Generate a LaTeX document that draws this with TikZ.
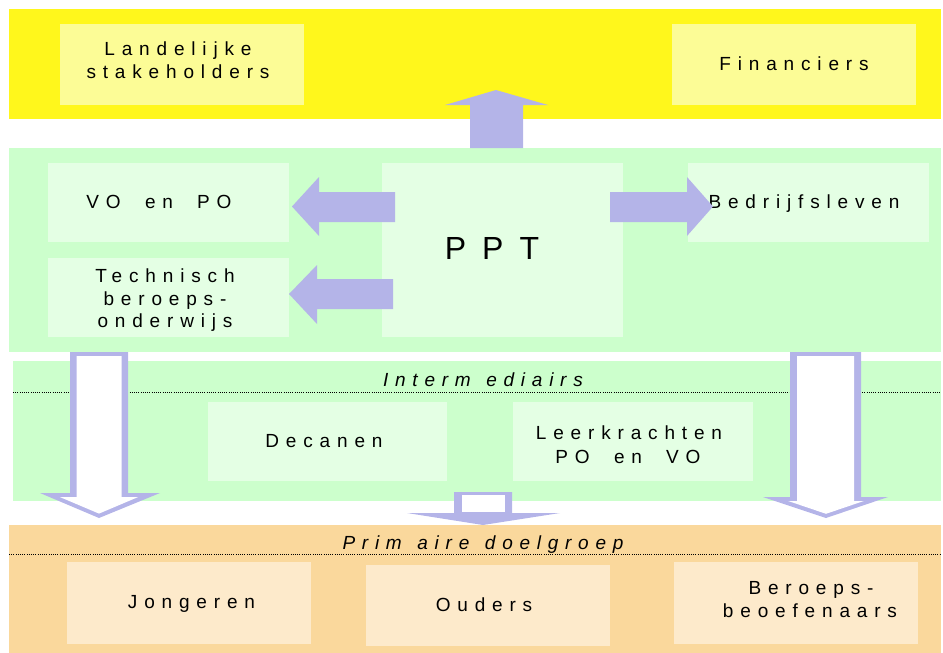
\documentclass[tikz,border=0pt]{standalone}
\usepackage{fontspec}
\setmainfont{Liberation Sans}
\newfontfamily\lsp[LetterSpace=36,WordSpace=2]{Liberation Sans}
\newfontfamily\lspit[LetterSpace=35.5,WordSpace=1.3]{Liberation Sans}
\newfontfamily\lspbig[LetterSpace=50]{Liberation Sans}
\definecolor{ybandc}{RGB}{255,247,28}
\definecolor{yboxc}{RGB}{252,252,150}
\definecolor{gbandc}{RGB}{204,255,204}
\definecolor{gboxc}{RGB}{228,255,228}
\definecolor{obandc}{RGB}{250,216,156}
\definecolor{oboxc}{RGB}{253,234,203}
\definecolor{lavc}{RGB}{180,180,232}
\begin{document}
\begin{tikzpicture}[x=1pt,y=-1pt,
  band/.style={draw=none,inner sep=0pt,outer sep=0pt},
  box/.style={draw=none,inner sep=0pt,outer sep=0pt},
  lbl/.style={anchor=base,inner sep=0pt,outer sep=0pt,text=black,font=\lsp\fontsize{19}{23}\selectfont},
  ilbl/.style={lbl,font=\lspit\itshape\fontsize{19}{23}\selectfont},
  biglbl/.style={anchor=base,inner sep=0pt,outer sep=0pt,text=black,font=\lspbig\fontsize{32}{38}\selectfont},
  solidarrow/.style={fill=lavc,draw=none},
  hollowout/.style={fill=lavc,draw=none},
  hollowin/.style={fill=white,draw=none},
  sepline/.style={black,line width=0.7pt,dash pattern=on 0.9pt off 1.3pt}
]
\useasboundingbox (0,0) rectangle (943,653);

% bands
\node[band,fill=ybandc,minimum width=932pt,minimum height=110pt] (yband) at (475,64) {};
\node[band,fill=gbandc,minimum width=932pt,minimum height=204pt] (gband) at (475,250) {};
\node[band,fill=gbandc,minimum width=928pt,minimum height=140pt] (iband) at (477,431) {};
\node[band,fill=obandc,minimum width=932pt,minimum height=128pt] (oband) at (475,589) {};

% separators
\coordinate (isepL) at (13,392);
\coordinate (isepR) at (941,392);
\coordinate (osepL) at (9,554);
\coordinate (osepR) at (941,554);
\draw[sepline] (isepL) -- (isepR);
\draw[sepline] (osepL) -- (osepR);

% boxes
\node[box,fill=yboxc,minimum width=244pt,minimum height=81pt] (land) at (182,64.5) {};
\node[box,fill=yboxc,minimum width=244pt,minimum height=81pt] (fin) at (794,64.5) {};
\node[box,fill=gboxc,minimum width=241pt,minimum height=79pt] (vo) at (168.5,202.5) {};
\node[box,fill=gboxc,minimum width=241pt,minimum height=79pt] (tech) at (168.5,297.5) {};
\node[box,fill=gboxc,minimum width=241pt,minimum height=174pt] (ppt) at (502.5,250) {};
\node[box,fill=gboxc,minimum width=241pt,minimum height=79pt] (bedr) at (808.5,202.5) {};
\node[box,fill=gboxc,minimum width=239pt,minimum height=79pt] (dec) at (327.5,441.5) {};
\node[box,fill=gboxc,minimum width=240pt,minimum height=79pt] (leer) at (633,441.5) {};
\node[box,fill=oboxc,minimum width=244pt,minimum height=82pt] (jong) at (189,603) {};
\node[box,fill=oboxc,minimum width=244pt,minimum height=81pt] (oud) at (488,605.5) {};
\node[box,fill=oboxc,minimum width=244pt,minimum height=82pt] (ber) at (796,603) {};

% texts
\node[lbl] (land1) at (178,55) {Landelijke};
\node[lbl] (land2) at (178,78) {stakeholders};
\node[lbl] (fint) at (794,70) {Financiers};
\node[lbl] (vot) at (159,208) {VO en PO};
\node[lbl] (tech1) at (165,282) {Technisch};
\node[lbl] (tech2) at (165,305) {beroeps-};
\node[lbl] (tech3) at (165,327) {onderwijs};
\node[biglbl] (pptt) at (492,259) {PPT};
\node[lbl] (bedrt) at (804,208) {Bedrijfsleven};
\node[ilbl] (intert) at (483,386) {Interm ediairs};
\node[lbl] (dect) at (324,447) {Decanen};
\node[lbl] (leer1) at (629,439) {Leerkrachten};
\node[lbl] (leer2) at (628,463) {PO en VO};
\node[ilbl] (primt) at (483,549) {Prim aire doelgroep};
\node[lbl] (jongt) at (191.5,608.5) {Jongeren};
\node[lbl] (oudt) at (484,611) {Ouders};
\node[lbl] (ber1) at (811,594) {Beroeps-};
\node[lbl] (ber2) at (810,617) {beoefenaars};

% solid block arrows
\fill[solidarrow] (470,148) -- (470,105) -- (445,105) -- (496,90) -- (548,105) -- (523,105) -- (523,148) -- cycle;
\fill[solidarrow] (395,192) -- (319,192) -- (319,177) -- (292,206.5) -- (319,236) -- (319,222) -- (395,222) -- cycle;
\fill[solidarrow] (393,279) -- (317,279) -- (317,265) -- (289,294) -- (317,324) -- (317,309) -- (393,309) -- cycle;
\fill[solidarrow] (610,192) -- (687,192) -- (687,177) -- (713,206.5) -- (687,236) -- (687,222) -- (610,222) -- cycle;

% hollow down arrows
\fill[hollowout] (70,352) -- (128,352) -- (128,493) -- (160,493) -- (99,518) -- (40,493) -- (70,493) -- cycle;
\fill[hollowin] (76.5,356) -- (121.5,356) -- (121.5,497) -- (138.2,497) -- (99,513.6) -- (59.8,497) -- (76.5,497) -- cycle;

\fill[hollowout] (790,352) -- (861,352) -- (861,497) -- (888,497) -- (826,518) -- (763,497) -- (790,497) -- cycle;
\fill[hollowin] (797,356) -- (854,356) -- (854,501) -- (863.8,501) -- (826,513.8) -- (788.2,501) -- (797,501) -- cycle;

\fill[hollowout] (454,492) -- (512,492) -- (512,513) -- (560,513) -- (483,525) -- (407,513) -- (454,513) -- cycle;
\fill[hollowin] (462,495) -- (505,495) -- (505,512) -- (462,512) -- cycle;
\end{tikzpicture}
\end{document}
